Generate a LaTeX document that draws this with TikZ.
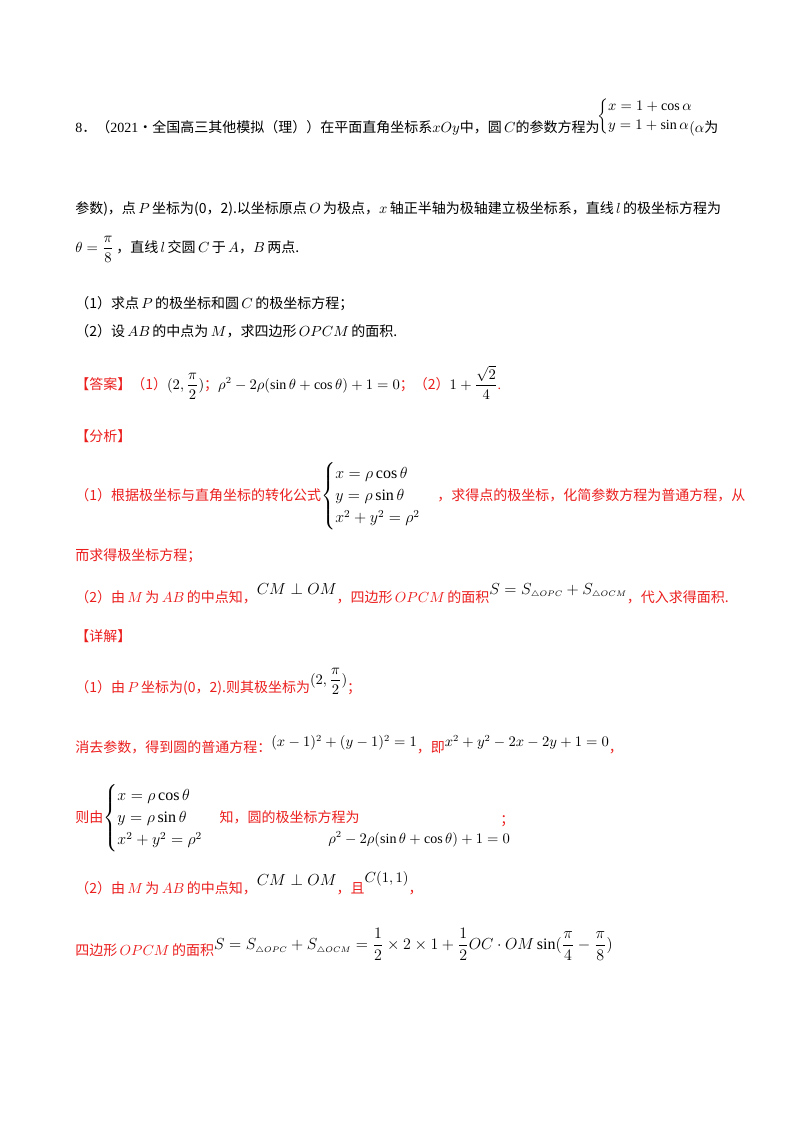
\documentclass[tikz,border=0pt]{standalone}
\usepackage{amsmath}
\usepackage{fontspec}
\setmainfont{Liberation Serif}
\newfontfamily\cjk{Noto Sans CJK SC}
\definecolor{ans}{RGB}{235,30,30}
\newcommand{\tri}{\scriptscriptstyle\triangle}
\newcommand{\bigcases}{\renewcommand{\arraystretch}{1.45}\large}
\begin{document}
\begin{tikzpicture}[x=0.75pt,y=-0.75pt,
  t/.style={anchor=base west,inner sep=0,font=\fontsize{10.5}{12}\selectfont},
  r/.style={t,text=ans}]
\useasboundingbox (0,0) rectangle (800,1132);
\node[t] (l1) at (75,132) {8{\cjk ．（}2021{\cjk·全国高三其他模拟（理））在平面直角坐标系}$xOy${\cjk 中，圆}\,$C${\cjk 的参数方程为}};
\node[t] (b1) at (597,120) {$\begin{cases} x=1+\cos\alpha\\ y=1+\sin\alpha\end{cases}$};
\node[t] (l1b) at (689,132) {$(\alpha${\cjk 为}};
\node[t] (l2) at (75,213) {\cjk 参数)，点\,$P$\,坐标为(0，2).以坐标原点\,$O$\,为极点，$x$\,轴正半轴为极轴建立极坐标系，直线\,$l$\,的极坐标方程为};
\node[t] (l3) at (75,252) {$\theta=\dfrac{\pi}{8}$\,{\cjk ，直线\,$l$\,交圆\,$C$\,于\,$A$，$B$\,两点.}};
\node[t] (q1) at (75,308) {\cjk （1）求点\,$P$\,的极坐标和圆\,$C$\,的极坐标方程；};
\node[t] (q2) at (75,336) {\cjk （2）设\,$AB$\,的中点为\,$M$，求四边形\,$OPCM$\,的面积.};
\node[r] (a1) at (75,389) {{\cjk 【答案】（1）}\textcolor{black}{$(2,\dfrac{\pi}{2})$}{\cjk ；}\textcolor{black}{$\rho^2-2\rho(\sin\theta+\cos\theta)+1=0$}{\cjk ；（2）}\textcolor{black}{$1+\dfrac{\sqrt2}{4}$}.};
\node[r] (a2) at (75,441) {\cjk 【分析】};
\node[r] (a3) at (75,500) {{\cjk （1）根据极坐标与直角坐标的转化公式}\textcolor{black}{\bigcases$\begin{cases} x=\rho\cos\theta\\ y=\rho\sin\theta\\ x^2+y^2=\rho^2\end{cases}$}{\cjk ，求得点的极坐标，化简参数方程为普通方程，从}};
\node[r] (a4) at (75,560) {\cjk 而求得极坐标方程；};
\node[r] (a5) at (75,602) {{\cjk （2）由\,$M$\,为\,$AB$\,的中点知，}\raisebox{6pt}{\textcolor{black}{\large$CM\perp OM$}}{\cjk ，四边形\,$OPCM$\,的面积}\raisebox{6pt}{\textcolor{black}{\large$S=S_{\tri OPC}+S_{\tri OCM}$}}{\cjk ，代入求得面积.}};
\node[r] (a6) at (75,641) {\cjk 【详解】};
\node[r] (a7) at (75,692) {{\cjk （1）由\,$P$\,坐标为(0，2).则其极坐标为}\raisebox{6pt}{\textcolor{black}{$(2,\dfrac{\pi}{2})$}}{\cjk ；}};
\node[r] (a8) at (75,752) {{\cjk 消去参数，得到圆的普通方程：}\raisebox{4pt}{\textcolor{black}{$(x-1)^2+(y-1)^2=1$}}{\cjk ，即}\raisebox{4pt}{\textcolor{black}{$x^2+y^2-2x-2y+1=0$}}{\cjk ，}};
\node[r] (a9) at (75,822) {{\cjk 则由}\textcolor{black}{\bigcases$\begin{cases} x=\rho\cos\theta\\ y=\rho\sin\theta\\ x^2+y^2=\rho^2\end{cases}$}{\cjk 知，圆的极坐标方程为}};
\node[t] (a9b) at (328,843) {$\rho^2-2\rho(\sin\theta+\cos\theta)+1=0$};
\node[r] (a9c) at (500,824) {\cjk ；};
\node[r] (a10) at (75,893) {{\cjk （2）由\,$M$\,为\,$AB$\,的中点知，}\raisebox{6pt}{\textcolor{black}{\large$CM\perp OM$}}{\cjk ，且}\raisebox{8pt}{\textcolor{black}{$C(1,1)$}}{\cjk ，}};
\node[r] (a11) at (75,955) {{\cjk 四边形\,$OPCM$\,的面积}\raisebox{4pt}{\textcolor{black}{\large$S=S_{\tri OPC}+S_{\tri OCM}=\dfrac12\times2\times1+\dfrac12OC\cdot OM\sin(\dfrac{\pi}{4}-\dfrac{\pi}{8})$}}};
\end{tikzpicture}
\end{document}
